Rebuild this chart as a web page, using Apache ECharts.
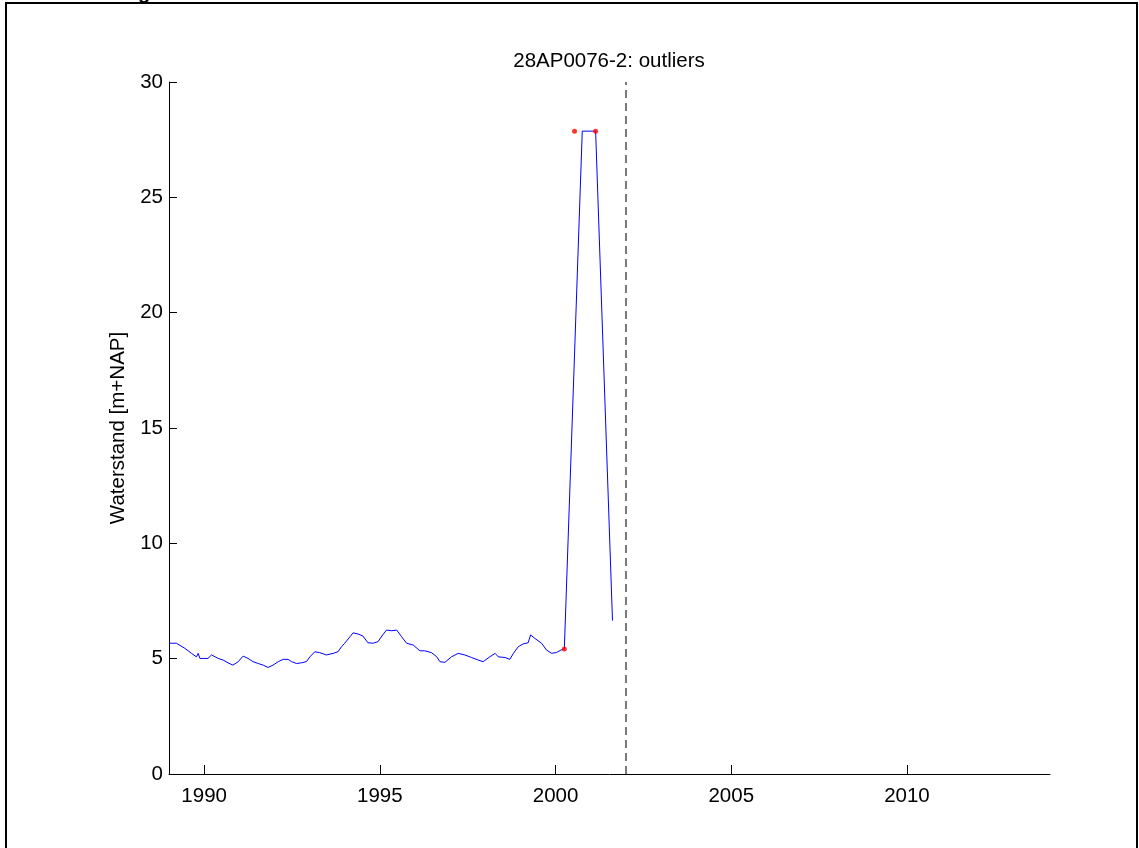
<!DOCTYPE html>
<html>
<head>
<meta charset="utf-8">
<script src="https://cdn.jsdelivr.net/npm/echarts@6/dist/echarts.min.js"></script>
<style>html,body{margin:0;padding:0;background:#fff;}#c{width:1139px;height:848px;}</style>
</head>
<body>
<div id="c"></div>
<script>
// Decimal years and water levels [m+NAP]
const years = [1989.00,1989.21,1989.45,1989.64,1989.78,1989.83,1989.88,1989.97,1990.11,1990.21,1990.40,1990.54,1990.68,1990.82,1990.97,1991.11,1991.25,1991.39,1991.54,1991.68,1991.82,1991.96,1992.11,1992.25,1992.39,1992.49,1992.63,1992.77,1992.91,1993.01,1993.15,1993.29,1993.48,1993.67,1993.81,1993.91,1994.00,1994.15,1994.24,1994.38,1994.52,1994.66,1994.81,1994.95,1995.08,1995.19,1995.33,1995.48,1995.62,1995.76,1995.95,1996.14,1996.28,1996.47,1996.62,1996.71,1996.85,1997.04,1997.23,1997.42,1997.61,1997.80,1997.94,1998.13,1998.28,1998.37,1998.56,1998.70,1998.80,1998.94,1999.08,1999.22,1999.29,1999.41,1999.60,1999.74,1999.89,2000.03,2000.16,2000.25,2000.76,2001.14,2001.62];
const levels = [5.67,5.67,5.45,5.23,5.08,5.23,5.01,5.01,5.01,5.16,5.01,4.94,4.82,4.72,4.87,5.11,5.01,4.87,4.79,4.72,4.62,4.72,4.87,4.97,4.97,4.87,4.79,4.82,4.87,5.08,5.30,5.26,5.16,5.23,5.30,5.52,5.67,5.95,6.12,6.07,5.98,5.69,5.67,5.74,6.03,6.24,6.21,6.24,5.95,5.67,5.59,5.34,5.34,5.26,5.08,4.87,4.84,5.08,5.23,5.16,5.05,4.94,4.87,5.08,5.23,5.08,5.05,4.97,5.23,5.52,5.64,5.69,6.03,5.88,5.67,5.38,5.23,5.27,5.38,5.42,27.87,27.87,6.65];
// Outliers
const outlierYears = [2000.25, 2000.54, 2001.14];
const outlierLevels = [5.42, 27.87, 27.87];
// Reference date (dashed line)
const refYear = 2002.0;
const xTicks = [1990, 1995, 2000, 2005, 2010];
const titleText = '28AP0076-2: outliers';
const yName = 'Waterstand [m+NAP]';

const lineData = years.map((y, i) => [y, levels[i]]);
const outData = outlierYears.map((y, i) => [y, outlierLevels[i]]);
const font = 'Liberation Sans';
const fs = 20.5;

const chart = echarts.init(document.getElementById('c'), null, {renderer: 'canvas'});
chart.setOption({
  backgroundColor: '#fff',
  animation: false,
  title: {
    text: titleText, left: 604, top: 46, textAlign: 'center',
    textStyle: {fontFamily: font, fontSize: fs, fontWeight: 'normal', color: '#000'}
  },
  graphic: [
    {type: 'rect', shape: {x: 6, y: 3, width: 1131, height: 870}, style: {fill: null, stroke: '#000', lineWidth: 2}, silent: true},
    {type: 'text', left: 138, top: -17, style: {text: 'g', font: 'bold 20px ' + font, fill: '#000'}, silent: true}
  ],
  grid: {left: 169, right: 89, top: 82, bottom: 74, containLabel: false},
  xAxis: {
    type: 'value', min: 1989.0, max: 2014.07,
    axisLine: {show: true, lineStyle: {color: '#000', width: 1}},
    axisTick: {show: true, inside: true, length: 9, customValues: xTicks, lineStyle: {color: '#000'}},
    axisLabel: {customValues: xTicks, formatter: v => String(v), margin: 12, fontFamily: font, fontSize: fs, color: '#000'},
    splitLine: {show: false}
  },
  yAxis: {
    type: 'value', min: 0, max: 30, interval: 5,
    name: yName, nameLocation: 'middle', nameGap: 34, nameRotate: 90,
    nameTextStyle: {fontFamily: font, fontSize: fs, color: '#000'},
    axisLine: {show: true, lineStyle: {color: '#000', width: 1}},
    axisTick: {show: true, inside: true, length: 8, lineStyle: {color: '#000'}},
    axisLabel: {margin: 6, fontFamily: font, fontSize: fs, color: '#000'},
    splitLine: {show: false}
  },
  series: [
    {
      type: 'line', data: lineData, showSymbol: false, symbol: 'none',
      lineStyle: {color: '#0000ff', width: 1}, z: 2,
      markLine: {
        silent: true, symbol: ['none', 'none'], label: {show: false},
        lineStyle: {color: '#4d4d4d', type: [8, 5], width: 1.5},
        data: [{xAxis: refYear}]
      }
    },
    {
      type: 'scatter', data: outData, symbol: 'circle', symbolSize: 5,
      itemStyle: {color: '#ff0000'}, z: 3
    }
  ]
});
</script>
</body>
</html>
